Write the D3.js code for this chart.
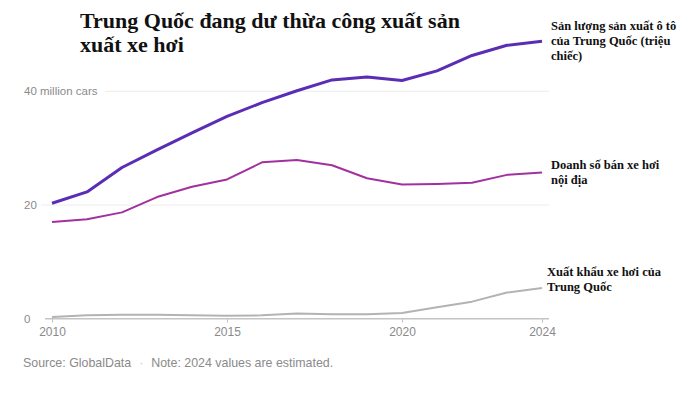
<!DOCTYPE html>
<html>
<head>
<meta charset="utf-8">
<script src="https://cdn.jsdelivr.net/npm/d3@7"></script>
<style>
  html, body { margin: 0; padding: 0; background: #fff; }
  svg { display: block; }
</style>
</head>
<body>
<svg id="chart" width="678" height="401"></svg>
<script>
const years = [2010, 2011, 2012, 2013, 2014, 2015, 2016, 2017, 2018, 2019, 2020, 2021, 2022, 2023, 2024];
const production = [20.3, 22.3, 26.6, 29.7, 32.7, 35.6, 38.0, 40.1, 42.0, 42.5, 41.9, 43.6, 46.3, 48.1, 48.8];
const domesticSales = [17.0, 17.5, 18.7, 21.4, 23.2, 24.5, 27.5, 27.9, 27.0, 24.7, 23.6, 23.7, 23.9, 25.3, 25.7];
const exportsData = [0.3, 0.6, 0.7, 0.7, 0.6, 0.5, 0.6, 0.9, 0.8, 0.8, 1.0, 2.0, 3.0, 4.6, 5.4];
const yTicks = [0, 20, 40];
const yTickLabels = ["0", "20", "40 million cars"];
const xTicks = [2010, 2015, 2020, 2024];
const titleLines = ["Trung Quốc đang dư thừa công xuất sản", "xuất xe hơi"];
const prodLabel = ["Sản lượng sản xuất ô tô", "của Trung Quốc (triệu", "chiếc)"];
const salesLabel = ["Doanh số bán xe hơi", "nội địa"];
const exportLabel = ["Xuất khẩu xe hơi của", "Trung Quốc"];
const sourceText = "Source: GlobalData";
const noteText = "Note: 2024 values are estimated.";

const svg = d3.select("#chart");
const x = d3.scaleLinear().domain([2010, 2024]).range([52, 542]);
const y = d3.scaleLinear().domain([0, 40]).range([318.7, 91.3]);

// title
const title = svg.append("text")
  .attr("x", 80).attr("y", 28)
  .style("font-family", "'Liberation Serif', 'Times New Roman', serif")
  .style("font-weight", "bold").style("font-size", "22px").style("fill", "#111");
titleLines.forEach((t, i) => title.append("tspan").attr("x", 80).attr("dy", i === 0 ? 0 : 24).text(t));

// gridlines
const gridStart = {0: 45, 20: 41, 40: 105};
svg.append("g").selectAll("line").data(yTicks.filter(d => d !== 0)).join("line")
  .attr("x1", d => gridStart[d]).attr("x2", 549)
  .attr("y1", d => y(d)).attr("y2", d => y(d))
  .attr("stroke", "#ececec").attr("stroke-width", 1);

// y labels
svg.append("g").selectAll("text").data(yTicks).join("text")
  .attr("x", 24).attr("y", d => y(d)).attr("dy", "0.35em")
  .style("font-family", "'Liberation Sans', Arial, sans-serif")
  .style("font-size", "11.5px").style("fill", "#8a8a8a")
  .text((d, i) => yTickLabels[i]);

// x axis
const xAxis = d3.axisBottom(x).tickValues(xTicks).tickFormat(d3.format("d")).tickSize(4).tickSizeOuter(0);
const gx = svg.append("g").attr("transform", `translate(0,${y(0)})`).call(xAxis);
gx.select(".domain").remove();
gx.insert("line", ":first-child").attr("x1", 45).attr("x2", 549).attr("y1", 0).attr("y2", 0)
  .attr("stroke", "#c4c4c4").attr("stroke-width", 1.5);
gx.selectAll(".tick line").attr("stroke", "#c4c4c4");
gx.selectAll(".tick text")
  .style("font-family", "'Liberation Sans', Arial, sans-serif")
  .style("font-size", "12px").style("fill", "#8a8a8a").attr("y", 9);

const line = d3.line().x((d, i) => x(years[i])).y(d => y(d));

svg.append("path").datum(exportsData).attr("d", line)
  .attr("fill", "none").attr("stroke", "#b3b3b3").attr("stroke-width", 2).attr("stroke-linejoin", "round");
svg.append("path").datum(domesticSales).attr("d", line)
  .attr("fill", "none").attr("stroke", "#a2309e").attr("stroke-width", 2).attr("stroke-linejoin", "round");
svg.append("path").datum(production).attr("d", line)
  .attr("fill", "none").attr("stroke", "#5b2db5").attr("stroke-width", 3).attr("stroke-linejoin", "round");

function label(lines, xPos, yFirst) {
  const t = svg.append("text").attr("x", xPos).attr("y", yFirst)
    .style("font-family", "'Liberation Serif', 'Times New Roman', serif")
    .style("font-weight", "bold").style("font-size", "12.5px").style("fill", "#111");
  lines.forEach((s, i) => t.append("tspan").attr("x", xPos).attr("dy", i === 0 ? 0 : 15).text(s));
}
label(prodLabel, 551, 30);
label(salesLabel, 551, 169);
label(exportLabel, 547, 276);

// source
const src = svg.append("text").attr("x", 23).attr("y", 367)
  .style("font-family", "'Liberation Sans', Arial, sans-serif")
  .style("font-size", "12.4px").style("fill", "#8a8a8a");
src.append("tspan").text(sourceText);
src.append("tspan").attr("dx", 8).style("fill", "#c8c8c8").text("·");
src.append("tspan").attr("dx", 8).text(noteText);
</script>
</body>
</html>
